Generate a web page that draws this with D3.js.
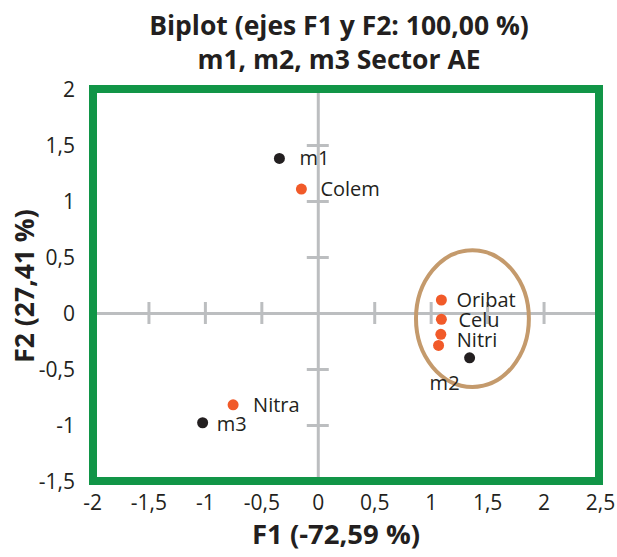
<!DOCTYPE html>
<html>
<head>
<meta charset="utf-8">
<script src="https://cdn.jsdelivr.net/npm/d3@7"></script>
<style>
  body { margin: 0; background: #fff; }
  svg { display: block; font-family: "Open Sans", sans-serif; }
</style>
</head>
<body>
<div id="viz"></div>
<script>
// observations (black) and variables (orange), coordinates on F1 / F2
const obsNames = ["m1", "m2", "m3"];
const obsF1 = [-0.34, 1.345, -1.02];
const obsF2 = [1.38, -0.40, -0.98];

const varNames = ["Colem", "Oribat", "Celu", "Nitri", "", "Nitra"];
const varF1 = [-0.145, 1.095, 1.095, 1.09, 1.07, -0.75];
const varF2 = [1.107, 0.116, -0.056, -0.19, -0.29, -0.82];

// group circled by hand on the original
const ellipseCenter = [1.37, -0.05];
const ellipseRadii = [0.50, 0.61];

const xTicks = [-2, -1.5, -1, -0.5, 0, 0.5, 1, 1.5, 2, 2.5];
const yTicks = [-1.5, -1, -0.5, 0, 0.5, 1, 1.5, 2];

const titleLines = ["Biplot (ejes F1 y F2: 100,00 %)", "m1, m2, m3 Sector AE"];
const xTitle = "F1 (-72,59 %)";
const yTitle = "F2 (27,41 %)";

// label nudges in px (text placed by hand in the source chart)
const obsLabelOffset = { m1: [20, 7], m2: [-40, 32], m3: [14, 8] };
const varLabelOffset = { Colem: [19, 7], Oribat: [15, 7], Celu: [17, 8], Nitri: [16, 13], Nitra: [20, 7] };

const W = 617, H = 557;
const plot = { left: 92, right: 600, top: 89, bottom: 481 };
const ink = "#231f20", grey = "#bcbec0", green = "#119547", orange = "#f15a29", tan = "#c49a6c";

const svg = d3.select("#viz").append("svg").attr("width", W).attr("height", H);

const x = d3.scaleLinear().domain([-2, 2.5]).range([plot.left, plot.right]);
const y = d3.scaleLinear().domain([-1.5, 2]).range([plot.bottom, plot.top]);
const fmt = d => String(d).replace(".", ",");

// title
svg.append("g").selectAll("text")
    .data(titleLines)
    .enter().append("text")
    .attr("x", 339)
    .attr("y", (d, i) => 35 + i * 34)
    .attr("text-anchor", "middle")
    .attr("font-size", 26.5)
    .attr("font-weight", "bold")
    .attr("fill", ink)
    .text(d => d);

// zero lines with crossing ticks
const zero = svg.append("g").attr("class", "zero-axes");

const xAxis = d3.axisBottom(x).tickValues(xTicks.filter(d => d !== 0 && d > -2 && d < 2.5)).tickFormat("").tickSizeOuter(0);
const gx = zero.append("g").attr("transform", "translate(0," + y(0) + ")").call(xAxis);
gx.select(".domain").attr("stroke", grey).attr("stroke-width", 3);
gx.selectAll(".tick line").attr("y1", -11).attr("y2", 11).attr("stroke", grey).attr("stroke-width", 3);

const yAxis = d3.axisLeft(y).tickValues(yTicks.filter(d => d !== 0 && d > -1.5 && d < 2)).tickFormat("").tickSizeOuter(0);
const gy = zero.append("g").attr("transform", "translate(" + x(0) + ",0)").call(yAxis);
gy.select(".domain").attr("stroke", grey).attr("stroke-width", 3);
gy.selectAll(".tick line").attr("x1", -11).attr("x2", 11).attr("stroke", grey).attr("stroke-width", 3);

// outer tick labels
const gxl = svg.append("g").attr("transform", "translate(0," + plot.bottom + ")")
    .call(d3.axisBottom(x).tickValues(xTicks).tickFormat(fmt).tickSize(0).tickPadding(29));
gxl.select(".domain").remove();
gxl.selectAll("text").attr("font-size", 21).attr("font-family", "Open Sans").attr("fill", ink).attr("dy", 0);

const gyl = svg.append("g").attr("transform", "translate(" + plot.left + ",0)")
    .call(d3.axisLeft(y).tickValues(yTicks).tickFormat(fmt).tickSize(0).tickPadding(17));
gyl.select(".domain").remove();
gyl.selectAll("text").attr("font-size", 21).attr("font-family", "Open Sans").attr("fill", ink).attr("dy", "0.35em");

// axis titles
svg.append("text")
    .attr("x", 336).attr("y", 544)
    .attr("text-anchor", "middle")
    .attr("font-size", 27.5).attr("font-weight", "bold").attr("fill", ink)
    .text(xTitle);

svg.append("text")
    .attr("transform", "translate(34,286) rotate(-90)")
    .attr("text-anchor", "middle")
    .attr("font-size", 26.5).attr("font-weight", "bold").attr("fill", ink)
    .text(yTitle);

// ellipse
svg.append("ellipse")
    .attr("cx", x(ellipseCenter[0])).attr("cy", y(ellipseCenter[1]))
    .attr("rx", x(ellipseRadii[0]) - x(0)).attr("ry", y(0) - y(ellipseRadii[1]))
    .attr("fill", "none").attr("stroke", tan).attr("stroke-width", 4);

// points
const vars = varNames.map((n, i) => ({ name: n, f1: varF1[i], f2: varF2[i] }));
const obs = obsNames.map((n, i) => ({ name: n, f1: obsF1[i], f2: obsF2[i] }));

svg.append("g").selectAll("circle").data(vars).enter().append("circle")
    .attr("cx", d => x(d.f1)).attr("cy", d => y(d.f2)).attr("r", 5.5).attr("fill", orange);
svg.append("g").selectAll("circle").data(obs).enter().append("circle")
    .attr("cx", d => x(d.f1)).attr("cy", d => y(d.f2)).attr("r", 5.5).attr("fill", ink);

svg.append("g").selectAll("text").data(vars.filter(d => d.name)).enter().append("text")
    .attr("x", d => x(d.f1) + varLabelOffset[d.name][0])
    .attr("y", d => y(d.f2) + varLabelOffset[d.name][1])
    .attr("font-size", 20).attr("fill", ink)
    .text(d => d.name);
svg.append("g").selectAll("text").data(obs).enter().append("text")
    .attr("x", d => x(d.f1) + obsLabelOffset[d.name][0])
    .attr("y", d => y(d.f2) + obsLabelOffset[d.name][1])
    .attr("font-size", 20).attr("fill", ink)
    .text(d => d.name);

// green frame
svg.append("rect")
    .attr("x", plot.left + 1).attr("y", plot.top)
    .attr("width", plot.right - plot.left - 2).attr("height", plot.bottom - plot.top)
    .attr("fill", "none").attr("stroke", green).attr("stroke-width", 8);
</script>
</body>
</html>
